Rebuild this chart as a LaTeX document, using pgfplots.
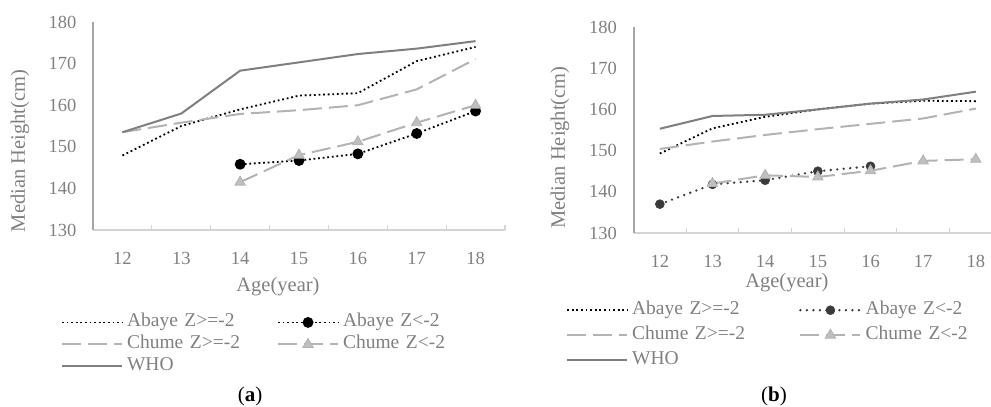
\documentclass[border=0pt]{standalone}
\usepackage{fontspec}
\setmainfont{Liberation Serif}
\usepackage{pgfplots}
\pgfplotsset{compat=1.18}
\definecolor{axisgray}{HTML}{A6A6A6}
\definecolor{xgray}{HTML}{D4D4D4}
\definecolor{txtgray}{HTML}{808080}
\definecolor{whogray}{HTML}{7F7F7F}
\definecolor{chgray}{HTML}{B3B3B3}
\definecolor{trifill}{HTML}{BFBFBF}
\definecolor{darkpt}{HTML}{3A3A3A}
\pgfplotsset{
 panel/.style={
  scale only axis,
  axis lines=left,
  axis line style={-},
  x axis line style={draw=xgray, line width=1.3pt},
  y axis line style={draw=axisgray, line width=2pt},
  xmin=11.5, ymin=130, ymax=180,
  xtick={12,...,18}, ytick={130,140,...,180},
  major tick length=0pt,
  minor tick length=5pt,
  tick align=inside,
  minor tick style={draw=xgray, line width=1.2pt},
  major tick style={draw=none},
  extra y ticks={180}, extra y tick labels={},
  extra y tick style={major tick length=5pt, tick style={draw=xgray, line width=1.2pt}},
  /pgf/number format/assume math mode=true,
  tick label style={font=\fontsize{18.5}{20}\selectfont, text=txtgray},
  xticklabel style={yshift=-19pt},
  yticklabel style={xshift=-13pt},
  label style={font=\fontsize{20.5}{22}\selectfont, text=txtgray},
  clip=false,
  legend columns=2,
  legend cell align=left,
  legend image code/.code={\draw[mark repeat=2,mark phase=2,##1] plot coordinates {(0pt,0pt) (30pt,0pt) (60pt,0pt)};},
 },
 abge/.style={black, line width=1.8pt, dash pattern=on 1.8pt off 2.8pt},
 chge/.style={chgray, line width=2pt, dash pattern=on 19pt off 7pt},
 who/.style={whogray, line width=2pt},
}
\begin{document}
\begin{tikzpicture}
\useasboundingbox (0,0) rectangle (991pt,407pt);
% ---------- (a) ----------
\begin{axis}[panel,
  at={(93pt,177pt)}, anchor=south west,
  width=412pt, height=208pt, xmax=18.5,
  minor xtick={12.5,13.5,...,18.5},
  xlabel={Age(year)}, ylabel={Median Height(cm)},
  xlabel style={at={(axis description cs:0.449,-0.274)}, anchor=center},
  ylabel style={at={(axis description cs:-0.177,0.38)}, anchor=center},
  legend style={draw=none, fill=none, font=\fontsize{19.5}{21}\selectfont, text=txtgray,
    at={(axis description cs:-0.078,-0.405)}, anchor=north west, inner sep=0pt,
    row sep=6pt,
    nodes={inner xsep=4pt, inner ysep=0pt, text height=12pt, text depth=4pt, text width=113pt, align=left},
    /tikz/every even column/.append style={column sep=33pt}},
]
\addplot[abge] coordinates {(12,147.9)(13,155.0)(14,159.0)(15,162.3)(16,162.9)(17,170.6)(18,174.0)};
\addlegendentry{Abaye Z>=-2}
\addplot[abge, mark=*, mark size=4.5pt, mark options={solid, fill=black}] coordinates {(14,145.8)(15,146.7)(16,148.3)(17,153.2)(18,158.6)};
\addlegendentry{Abaye Z<-2}
\addplot[chge] coordinates {(12,153.5)(13,155.8)(14,157.9)(15,158.8)(16,160.0)(17,163.8)(18,171.1)};
\addlegendentry{Chume Z>=-2}
\addplot[chge, mark=triangle*, mark size=6pt, mark options={solid, fill=trifill, draw=chgray, line width=0.8pt}] coordinates {(14,141.5)(15,148.0)(16,151.2)(17,155.8)(18,160.0)};
\addlegendentry{Chume Z<-2}
\addplot[who] coordinates {(12,153.5)(13,158.0)(14,168.3)(15,170.3)(16,172.3)(17,173.6)(18,175.4)};
\addlegendentry{WHO}
\end{axis}
% ---------- (b) ----------
\begin{axis}[panel,
  at={(633.5pt,174pt)}, anchor=south west,
  width=357.5pt, height=206pt, xmax=18.288,
  minor xtick={12.5,13.5,...,17.5},
  xlabel={Age(year)}, ylabel={Median Height(cm)},
  xlabel style={at={(axis description cs:0.429,-0.243)}, anchor=center},
  ylabel style={at={(axis description cs:-0.206,0.415)}, anchor=center},
  legend style={draw=none, fill=none, font=\fontsize{19.5}{21}\selectfont, text=txtgray,
    at={(axis description cs:-0.189,-0.335)}, anchor=north west, inner sep=0pt,
    row sep=9pt,
    nodes={inner xsep=4pt, inner ysep=0pt, text height=12pt, text depth=4pt, text width=113pt, align=left},
    /tikz/every even column/.append style={column sep=50pt}},
]
\addplot[abge] coordinates {(12,149.3)(13,155.4)(14,158.2)(15,160.0)(16,161.4)(17,162.1)(18,162.0)};
\addlegendentry{Abaye Z>=-2}
\addplot[darkpt, line width=2.6pt, line cap=round, dash pattern=on 0pt off 6.5pt, mark=*, mark size=4.5pt, mark options={solid, fill=darkpt, line width=0.5pt}] coordinates {(12,137.0)(13,141.8)(14,142.8)(15,145.0)(16,146.2)};
\addlegendentry{Abaye Z<-2}
\addplot[chge] coordinates {(12,150.4)(13,152.2)(14,153.8)(15,155.2)(16,156.5)(17,157.8)(18,160.2)};
\addlegendentry{Chume Z>=-2}
\addplot[chge, mark=triangle*, mark size=6pt, mark options={solid, fill=trifill, draw=chgray, line width=0.8pt}] coordinates {(13,142.0)(14,144.0)(15,143.6)(16,145.1)(17,147.5)(18,147.9)};
\addlegendentry{Chume Z<-2}
\addplot[who] coordinates {(12,155.3)(13,158.4)(14,158.7)(15,160.0)(16,161.4)(17,162.4)(18,164.3)};
\addlegendentry{WHO}
\end{axis}
\node[font=\fontsize{21}{24}\selectfont] at (250pt,11pt) {(\textbf{a})};
\node[font=\fontsize{21}{24}\selectfont] at (774pt,11pt) {(\textbf{b})};
\end{tikzpicture}
\end{document}
